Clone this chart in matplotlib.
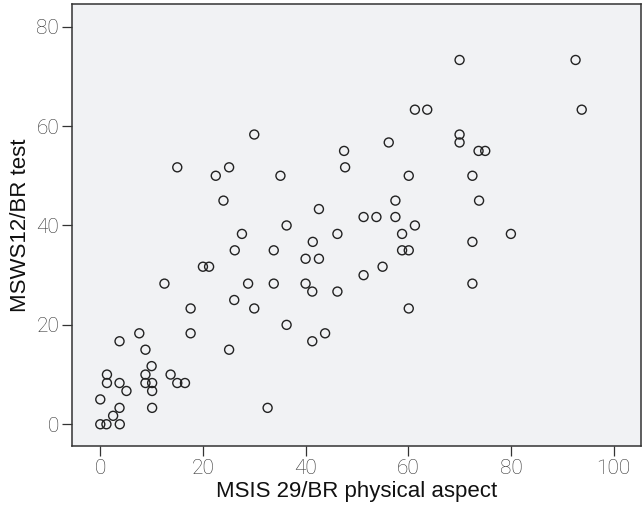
import matplotlib
matplotlib.use("Agg")
import matplotlib.pyplot as plt

x_vals = [70.0, 92.6, 61.3, 63.7, 93.8, 30.0, 70.0, 70.0, 56.2, 47.5,
          73.7, 75.0, 15.0, 25.1, 47.7, 22.5, 35.1, 60.1, 72.5, 24.0,
          57.5, 73.8, 42.6, 51.3, 53.8, 57.5, 36.3, 61.3, 27.6, 46.2,
          58.8, 80.0, 41.4, 72.5, 26.2, 33.8, 58.8, 60.1, 40.0, 42.6,
          20.0, 21.2, 55.0, 51.3, 12.5, 28.8, 33.8, 40.0, 72.5, 41.3,
          46.2, 26.1, 17.6, 30.0, 60.1, 36.3, 7.6, 17.6, 43.8, 3.75,
          41.3, 8.8, 25.1, 10.0, 1.3, 8.8, 13.7, 1.3, 3.75, 8.8,
          10.1, 15.0, 16.5, 5.1, 10.1, 0.0, 3.75, 10.1, 32.6, 2.5,
          0.0, 1.2, 3.8]
y_vals = [73.3, 73.3, 63.3, 63.3, 63.3, 58.3, 58.3, 56.7, 56.7, 55.0,
          55.0, 55.0, 51.7, 51.7, 51.7, 50.0, 50.0, 50.0, 50.0, 45.0,
          45.0, 45.0, 43.3, 41.7, 41.7, 41.7, 40.0, 40.0, 38.3, 38.3,
          38.3, 38.3, 36.7, 36.7, 35.0, 35.0, 35.0, 35.0, 33.3, 33.3,
          31.7, 31.7, 31.7, 30.0, 28.3, 28.3, 28.3, 28.3, 28.3, 26.7,
          26.7, 25.0, 23.3, 23.3, 23.3, 20.0, 18.3, 18.3, 18.3, 16.7,
          16.7, 15.0, 15.0, 11.7, 10.0, 10.0, 10.0, 8.3, 8.3, 8.3,
          8.3, 8.3, 8.3, 6.7, 6.7, 5.0, 3.3, 3.3, 3.3, 1.7,
          0.0, 0.0, 0.0]
x_ticks = [0, 20, 40, 60, 80, 100]
y_ticks = [0, 20, 40, 60, 80]
x_label = "MSIS 29/BR physical aspect"
y_label = "MSWS12/BR test"

fig = plt.figure(figsize=(6.43, 5.08), dpi=100)
ax = fig.add_axes([0.1115, 0.1215, 0.885, 0.8707])
ax.set_facecolor("#f1f2f4")
ax.scatter(x_vals, y_vals, s=42, facecolors="none", edgecolors="#222222",
           linewidths=1.0, zorder=3)
ax.set_xlim(-5.57, 105.3)
ax.set_ylim(-4.43, 84.57)
ax.set_xticks(x_ticks)
ax.set_yticks(y_ticks)
ax.set_xticklabels([str(t) for t in x_ticks])
ax.set_yticklabels([str(t) for t in y_ticks])
for sp in ["top", "right", "left", "bottom"]:
    ax.spines[sp].set_color("#333333")
    ax.spines[sp].set_linewidth(1.1)
ax.tick_params(direction="out", length=7, width=0.9, color="#333333",
               labelsize=15, labelcolor="#333333", pad=2)
for lab in ax.get_xticklabels() + ax.get_yticklabels():
    lab.set_family("Roboto")
    lab.set_fontweight("light")
ax.set_xlabel(x_label, fontsize=16, family="Liberation Sans", color="#111111", labelpad=2)
ax.set_ylabel(y_label, fontsize=16, family="Liberation Sans", color="#111111", labelpad=4)
fig.savefig("out.png", dpi=100)
